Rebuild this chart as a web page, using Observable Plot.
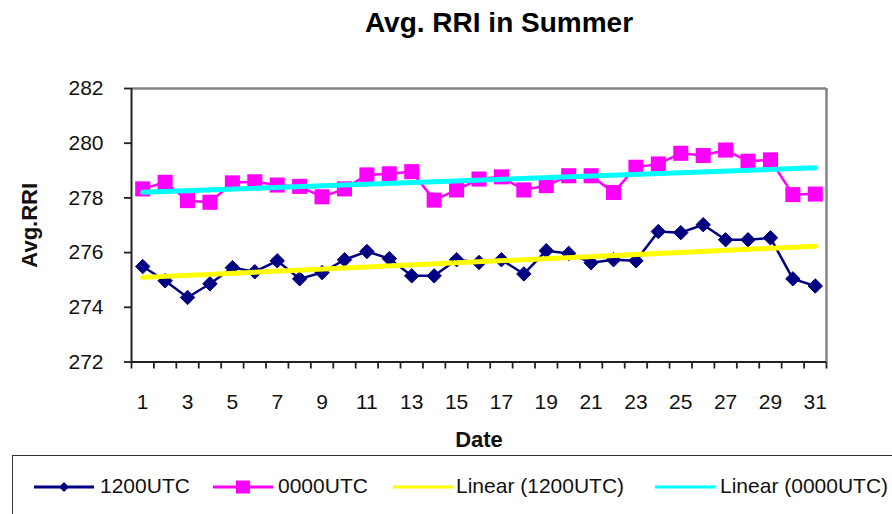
<!DOCTYPE html>
<html>
<head>
<meta charset="utf-8">
<script src="https://cdn.jsdelivr.net/npm/d3@7"></script>
<script src="https://cdn.jsdelivr.net/npm/@observablehq/plot@0.6"></script>
<style>
  html, body { margin: 0; padding: 0; background: #fff; }
  body { font-family: "Liberation Sans", Arial, sans-serif; color: #000; }
  #wrap { position: relative; width: 892px; height: 514px; overflow: hidden; background: #fff; }
  #title { position: absolute; top: 9px; left: 0; width: 998px; text-align: center;
           font-weight: bold; font-size: 28px; line-height: 28px; white-space: nowrap; }
  #chart { position: absolute; top: 50px; left: 0; }
  #legend { position: absolute; top: 455px; left: 12px; width: 900px; height: 80px;
            border: 1.5px solid #333; box-sizing: border-box; }
  .lg-sw { position: absolute; top: 477px; }
  .lg-tx { position: absolute; top: 475px; font-size: 21px; line-height: 21px; white-space: nowrap; color: #111; }
  #chart g[aria-label="x-axis label"] text,
  #chart g[aria-label="y-axis label"] text { font-weight: bold !important; font-size: 22px !important; }
</style>
</head>
<body>
<div id="wrap">
  <div id="title">Avg. RRI in Summer</div>
  <div id="chart"></div>
  <div id="legend"></div>
</div>
<script>
// ---- data ----
const days = [1,2,3,4,5,6,7,8,9,10,11,12,13,14,15,16,17,18,19,20,21,22,23,24,25,26,27,28,29,30,31];
const utc1200 = [275.49, 274.97, 274.36, 274.86, 275.45, 275.30, 275.70, 275.04, 275.27, 275.74,
                 276.04, 275.78, 275.15, 275.15, 275.74, 275.64, 275.74, 275.22, 276.07, 275.97,
                 275.63, 275.74, 275.70, 276.77, 276.73, 277.02, 276.47, 276.47, 276.54, 275.04, 274.78];
const utc0000 = [278.33, 278.57, 277.90, 277.84, 278.55, 278.59, 278.47, 278.42, 278.04, 278.33,
                 278.84, 278.88, 278.96, 277.92, 278.29, 278.69, 278.77, 278.29, 278.45, 278.81,
                 278.81, 278.20, 279.12, 279.24, 279.63, 279.55, 279.75, 279.34, 279.39, 278.12, 278.14];
const dayLabels = [1,3,5,7,9,11,13,15,17,19,21,23,25,27,29,31];
const dayBounds = [0.5,1.5,2.5,3.5,4.5,5.5,6.5,7.5,8.5,9.5,10.5,11.5,12.5,13.5,14.5,15.5,
                   16.5,17.5,18.5,19.5,20.5,21.5,22.5,23.5,24.5,25.5,26.5,27.5,28.5,29.5,30.5,31.5];
const yTicks = [272, 274, 276, 278, 280, 282];
const seriesNames = ["1200UTC", "0000UTC", "Linear (1200UTC)", "Linear (0000UTC)"];
const seriesColors = ["#000080", "#FF00FF", "#FFFF00", "#00FFFF"];

const rows1200 = days.map((d, i) => ({day: d, value: utc1200[i]}));
const rows0000 = days.map((d, i) => ({day: d, value: utc0000[i]}));
const xDomain = [dayBounds[0], dayBounds[dayBounds.length - 1]];
const yDomain = [yTicks[0], yTicks[yTicks.length - 1]];

const chart = Plot.plot({
  width: 892,
  height: 405,
  marginTop: 38,
  marginBottom: 93.5,
  marginLeft: 131,
  marginRight: 66,
  style: {fontFamily: "Liberation Sans, Arial, sans-serif", fontSize: "21px", color: "#000", background: "transparent", overflow: "visible"},
  x: {type: "linear", domain: xDomain},
  y: {type: "linear", domain: yDomain},
  marks: [
    Plot.ruleY([yDomain[1]], {stroke: "#858585", strokeWidth: 2.5}),
    Plot.ruleX([xDomain[1]], {stroke: "#858585", strokeWidth: 2.5}),
    Plot.axisY({ticks: yTicks, tickSize: 7, tickPadding: 21, strokeWidth: 1.8, stroke: "#222",
                tickFormat: d => String(d), fill: "#111",
                label: "Avg.RRI", labelAnchor: "center", labelOffset: 110, labelArrow: false}),
    Plot.axisX({ticks: dayBounds, tickSize: 7, strokeWidth: 1.8, stroke: "#222", tickFormat: () => "", label: null}),
    Plot.axisX({ticks: dayLabels, tickSize: 0, tickPadding: 32, tickFormat: d => String(d), fill: "#111",
                label: "Date", labelAnchor: "center", labelOffset: 85, labelArrow: false}),
    Plot.ruleX([xDomain[0]], {stroke: "#222", strokeWidth: 2}),
    Plot.ruleY([yDomain[0]], {stroke: "#222", strokeWidth: 2}),
    Plot.line(rows1200, {x: "day", y: "value", stroke: seriesColors[0], strokeWidth: 2.5}),
    Plot.dot(rows1200, {x: "day", y: "value", symbol: "diamond2", r: 6.5, fill: seriesColors[0], stroke: seriesColors[0], strokeWidth: 1}),
    Plot.line(rows0000, {x: "day", y: "value", stroke: seriesColors[1], strokeWidth: 2.5}),
    Plot.dot(rows0000, {x: "day", y: "value", symbol: "square", r: 8.5, fill: seriesColors[1], stroke: "none"}),
    Plot.linearRegressionY(rows1200, {x: "day", y: "value", stroke: seriesColors[2], strokeWidth: 5, ci: 0}),
    Plot.linearRegressionY(rows0000, {x: "day", y: "value", stroke: seriesColors[3], strokeWidth: 5, ci: 0})
  ]
});
document.getElementById("chart").appendChild(chart);

// ---- legend ----
const wrap = document.getElementById("wrap");
const legendItems = [
  {sw: 34, tx: 100, marker: "diamond"},
  {sw: 213, tx: 278, marker: "square"},
  {sw: 393, tx: 456, marker: null},
  {sw: 655, tx: 720, marker: null}
];
legendItems.forEach((it, i) => {
  const color = seriesColors[i];
  let m = "";
  if (it.marker === "diamond") m = `<path d="M30,5 L35,10 L30,15 L25,10 Z" fill="${color}"/>`;
  if (it.marker === "square") m = `<rect x="23" y="3.5" width="14" height="13" fill="${color}"/>`;
  const sw = document.createElement("div");
  sw.className = "lg-sw";
  sw.style.left = it.sw + "px";
  sw.innerHTML = `<svg width="60" height="20"><line x1="0" y1="10" x2="60" y2="10" stroke="${color}" stroke-width="3"/>${m}</svg>`;
  wrap.appendChild(sw);
  const tx = document.createElement("div");
  tx.className = "lg-tx";
  tx.style.left = it.tx + "px";
  tx.textContent = seriesNames[i];
  wrap.appendChild(tx);
});
</script>
</body>
</html>
